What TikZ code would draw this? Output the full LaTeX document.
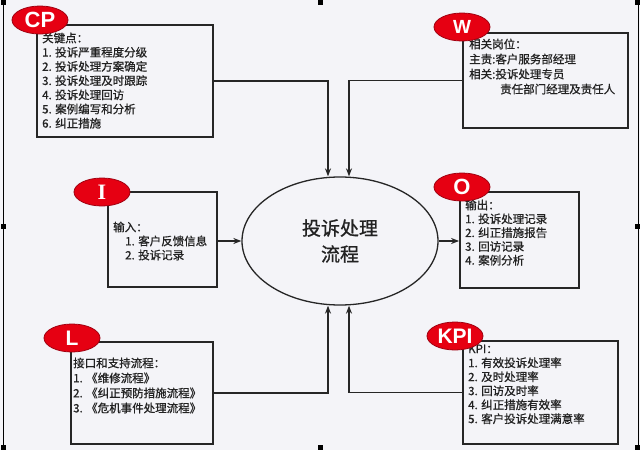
\documentclass[tikz,border=0pt]{standalone}
\usepackage{fontspec}
\setmainfont{Liberation Serif}
\newfontfamily\cjk[RawFeature={embolden=0.8}]{Noto Sans CJK SC}
\newfontfamily\badgesans{Liberation Sans}
\newfontfamily\badgeserif{Liberation Serif}
\usetikzlibrary{shapes.geometric,arrows.meta}
\definecolor{bgc}{HTML}{F4F4F8}
\definecolor{linec}{HTML}{262626}
\definecolor{txtc}{HTML}{222222}
\definecolor{badgered}{HTML}{E60012}
\definecolor{badgeedge}{HTML}{A00010}
\tikzset{
  box/.style={draw=linec, line width=1.8pt, fill=bgc, inner sep=0pt},
  txt/.style={anchor=north west, inner sep=0pt, align=left, text=txtc,
    font=\cjk\fontsize{11.5}{14.2}\selectfont},
  badge/.style={ellipse, fill=badgered, draw=badgeedge, line width=0.8pt,
    minimum width=56pt, minimum height=28pt, inner sep=0pt, text=white},
  conn/.style={draw=linec, line width=1.4pt},
  arr/.style={conn, -{Stealth[length=8pt,width=6pt]}},
  handle/.style={fill=black}
}
\begin{document}
\begin{tikzpicture}[x=1pt,y=-1pt]
\fill[bgc] (0,0) rectangle (640,450);
\useasboundingbox (0,0) rectangle (640,450);
% selection frame
\draw[black, line width=0.8pt] (3,0) -- (3,450);
\draw[black, line width=0.8pt] (638,0) -- (638,450);
\foreach \hx in {3,320,637}{
  \foreach \hy in {2,226,447}{
    \fill[handle] (\hx-2.5,\hy-2.5) rectangle (\hx+2.5,\hy+2.5);
  }
}
% main process
\node[ellipse, draw=linec, line width=1.3pt, fill=bgc, minimum width=196pt,
  minimum height=128pt, inner sep=0pt, align=center, text=txtc,
  font=\cjk\fontsize{19}{26}\selectfont] (main) at (340,241) {投诉处理\\流程};

% CP
\node[box, minimum width=176pt, minimum height=112pt] (cpbox) at (125,81) {};
\node[txt] (cptxt) at (42,32.5) {关键点：\\1. 投诉严重程度分级\\2. 投诉处理方案确定\\3. 投诉处理及时跟踪\\4. 投诉处理回访\\5. 案例编写和分析\\6. 纠正措施};
\node[badge, font=\badgesans\bfseries\fontsize{22}{22}\selectfont] (cpbadge) at (40,20) {CP};

% W
\node[box, minimum width=165pt, minimum height=95pt] (wbox) at (545.5,80.5) {};
\node[txt, font=\cjk\fontsize{11.5}{15}\selectfont] (wtxt) at (469,38.5) {相关岗位：\\主责:客户服务部经理\\相关:投诉处理专员\\\hspace*{31pt}责任部门经理及责任人};
\node[badge, font=\badgesans\bfseries\fontsize{19}{19}\selectfont] (wbadge) at (462,27) {W};

% I
\node[box, minimum width=109pt, minimum height=95pt] (ibox) at (162.5,239.5) {};
\node[txt, font=\cjk\fontsize{11.5}{14}\selectfont] (itxt) at (113,221.5) {输入：\\\hspace*{12pt}1. 客户反馈信息\\\hspace*{12pt}2. 投诉记录};
\node[badge, font=\badgeserif\bfseries\fontsize{22}{22}\selectfont] (ibadge) at (102,192) {I};

% O
\node[box, minimum width=119pt, minimum height=96pt] (obox) at (519.5,240) {};
\node[txt, font=\cjk\fontsize{11.5}{13.8}\selectfont] (otxt) at (465,199.5) {输出：\\1. 投诉处理记录\\2. 纠正措施报告\\3. 回访记录\\4. 案例分析};
\node[badge, font=\badgesans\bfseries\fontsize{22}{22}\selectfont] (obadge) at (462,187) {O};

% L
\node[box, minimum width=142pt, minimum height=102pt] (lbox) at (142,393) {};
\node[txt, font=\cjk\fontsize{11.5}{15}\selectfont] (ltxt) at (73,357.5) {接口和支持流程：\\1. 《维修流程》\\2. 《纠正预防措施流程》\\3. 《危机事件处理流程》};
\node[badge, font=\badgesans\bfseries\fontsize{21}{21}\selectfont] (lbadge) at (72,338) {L};

% KPI
\node[box, minimum width=155pt, minimum height=103pt] (kbox) at (540.5,392.5) {};
\node[txt, font=\cjk\fontsize{11.5}{14}\selectfont] (ktxt) at (468,344.5) {KPI：\\1. 有效投诉处理率\\2. 及时处理率\\3. 回访及时率\\4. 纠正措施有效率\\5. 客户投诉处理满意率};
\node[badge, font=\badgesans\bfseries\fontsize{21}{21}\selectfont] (kbadge) at (455,336) {KPI};

% connectors
\draw[arr] (cpbox.east) -| ([xshift=-12pt]main.north);
\draw[arr] (wbox.west) -| ([xshift=9pt]main.north);
\draw[arr] (ibox.east |- main.west) -- (main.west);
\draw[arr] (main.east) -- (obox.west |- main.east);
\draw[arr] (lbox.east) -| ([xshift=-12pt]main.south);
\draw[arr] (kbox.west) -| ([xshift=9pt]main.south);
\end{tikzpicture}
\end{document}
